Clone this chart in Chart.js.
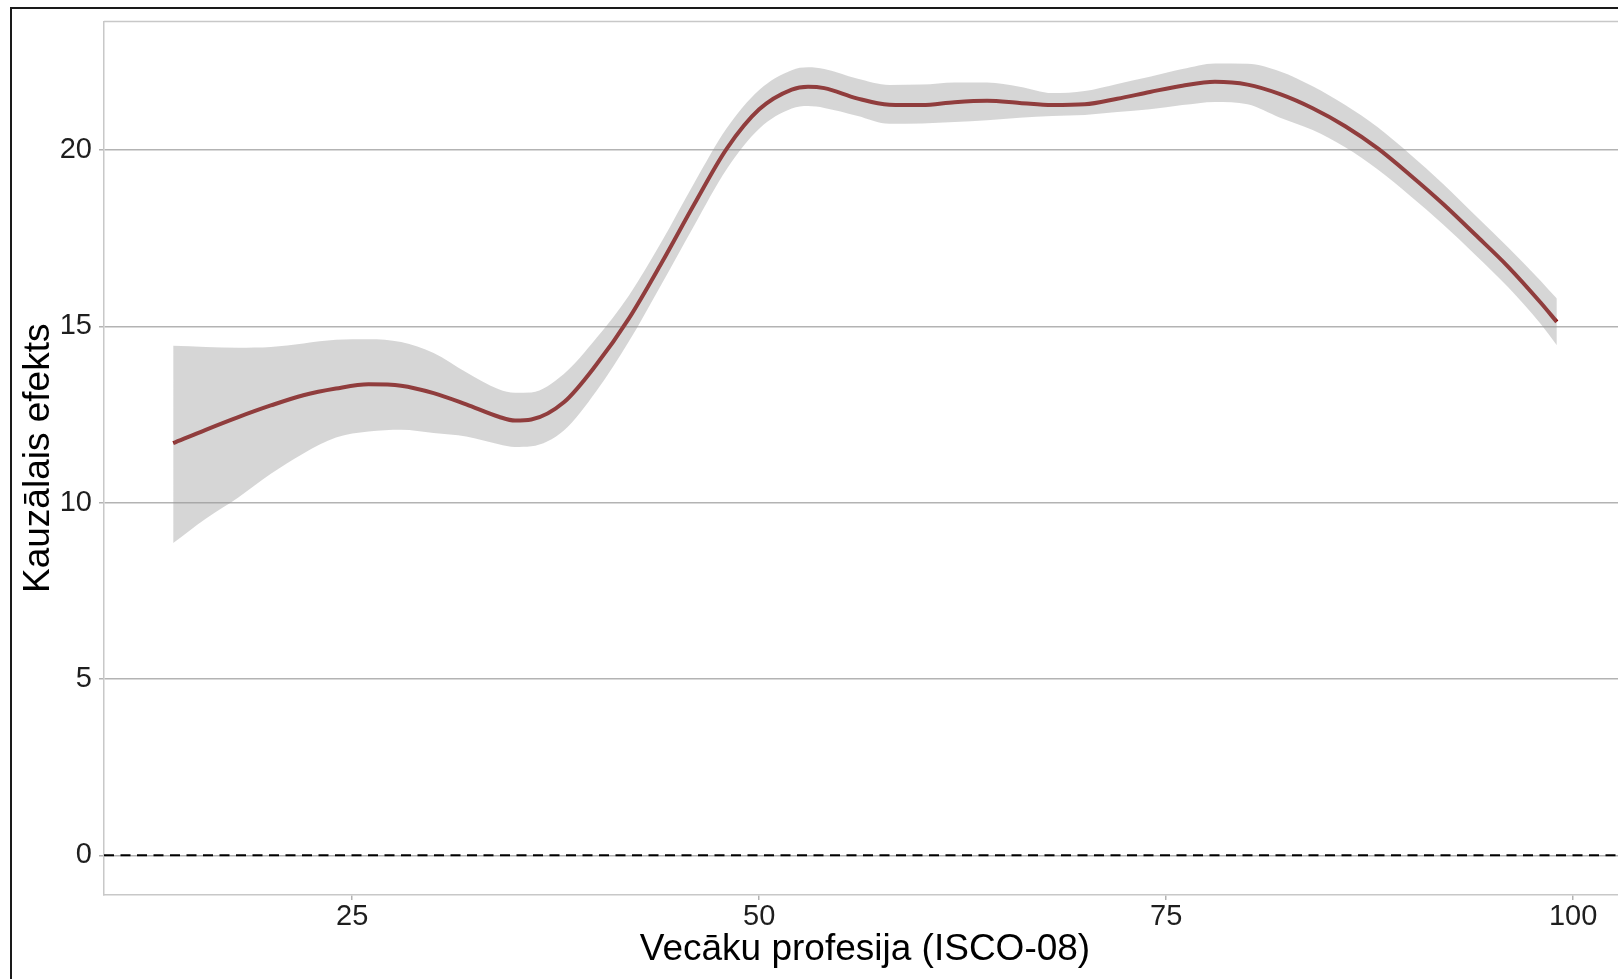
<!DOCTYPE html>
<html>
<head>
<meta charset="utf-8">
<script src="https://cdn.jsdelivr.net/npm/chart.js@4/dist/chart.umd.min.js"></script>
<style>
  html, body { margin: 0; padding: 0; overflow: hidden; background: #fff; }
  #wrap { position: absolute; left: 0; top: 0; }
</style>
</head>
<body>
<div id="wrap"><canvas id="c" width="1660" height="979"></canvas></div>
<script>
// ---- data ----
const xValues = [14, 16, 18, 20, 22, 24, 26, 28, 30, 32, 34, 35, 36, 38, 40, 42, 44, 46, 48, 50, 52, 53, 54, 56, 58, 60, 62, 64, 66, 68, 70, 72, 74, 76, 78, 80, 82, 84, 86, 88, 90, 92, 94, 96, 98, 99];
const fitValues = [11.69, 12.07, 12.43, 12.76, 13.05, 13.24, 13.36, 13.32, 13.11, 12.79, 12.44, 12.33, 12.36, 12.85, 13.92, 15.23, 16.80, 18.46, 20.04, 21.16, 21.72, 21.80, 21.76, 21.47, 21.29, 21.28, 21.36, 21.40, 21.34, 21.28, 21.30, 21.46, 21.65, 21.83, 21.94, 21.86, 21.59, 21.19, 20.68, 20.05, 19.29, 18.48, 17.60, 16.70, 15.68, 15.13];
const upperValues = [14.45, 14.42, 14.40, 14.42, 14.52, 14.62, 14.64, 14.56, 14.25, 13.70, 13.22, 13.12, 13.13, 13.65, 14.67, 15.88, 17.40, 19.06, 20.62, 21.71, 22.27, 22.35, 22.30, 22.03, 21.85, 21.86, 21.92, 21.92, 21.80, 21.62, 21.68, 21.88, 22.08, 22.30, 22.46, 22.45, 22.23, 21.81, 21.28, 20.65, 19.88, 19.05, 18.15, 17.25, 16.30, 15.79];
const lowerValues = [8.86, 9.55, 10.15, 10.82, 11.40, 11.85, 12.02, 12.07, 11.98, 11.88, 11.66, 11.58, 11.60, 12.05, 13.17, 14.58, 16.20, 17.86, 19.46, 20.61, 21.18, 21.25, 21.20, 20.98, 20.75, 20.76, 20.80, 20.85, 20.92, 20.97, 21.00, 21.08, 21.16, 21.28, 21.37, 21.30, 20.92, 20.57, 20.08, 19.45, 18.70, 17.90, 17.03, 16.12, 15.08, 14.47];
const refLineY = 0;
const xTicks = [25, 50, 75, 100];
const yTicks = [0, 5, 10, 15, 20];
const xRange = [9.75, 103.25];
const yRange = [-1.125, 23.65];
const xTitle = 'Vecāku profesija (ISCO-08)';
const yTitle = 'Kauzālais efekts';

const toPts = arr => xValues.map((x, i) => ({ x: x, y: arr[i] }));
const FONT = "'Liberation Sans', Arial, sans-serif";

const frame = {
  id: 'frame',
  beforeDraw(chart) {
    const ctx = chart.ctx;
    ctx.save();
    ctx.fillStyle = '#ffffff';
    ctx.fillRect(0, 0, chart.width, chart.height);
    ctx.strokeStyle = '#1a1a1a';
    ctx.lineWidth = 2;
    ctx.strokeRect(11, 8, 3000, 3000);
    ctx.restore();
  },
  afterDraw(chart) {
    const a = chart.chartArea;
    const ctx = chart.ctx;
    ctx.save();
    ctx.strokeStyle = '#c8c8c8';
    ctx.lineWidth = 1.5;
    ctx.beginPath();
    ctx.moveTo(a.left, a.top);
    ctx.lineTo(a.right, a.top);
    ctx.lineTo(a.right, a.bottom);
    ctx.stroke();
    ctx.restore();
  }
};

new Chart(document.getElementById('c'), {
  type: 'line',
  data: {
    datasets: [
      { label: 'lower', data: toPts(lowerValues), borderWidth: 0, pointRadius: 0, fill: false, cubicInterpolationMode: 'monotone', borderColor: 'rgba(0,0,0,0)' },
      { label: 'upper', data: toPts(upperValues), borderWidth: 0, pointRadius: 0, fill: '-1', backgroundColor: 'rgba(153,153,153,0.4)', cubicInterpolationMode: 'monotone', borderColor: 'rgba(0,0,0,0)' },
      { label: 'fit', data: toPts(fitValues), borderWidth: 4, borderColor: '#8b0000', pointRadius: 0, fill: false, cubicInterpolationMode: 'monotone' },
      { label: 'zero', data: [{ x: xRange[0], y: refLineY }, { x: xRange[1], y: refLineY }], borderWidth: 2, borderColor: '#000000', borderDash: [10, 6.5], pointRadius: 0, fill: false }
    ]
  },
  options: {
    responsive: false,
    animation: false,
    events: [],
    layout: { padding: { top: 19, right: 34, left: 0, bottom: 0 } },
    plugins: { legend: { display: false }, tooltip: { enabled: false } },
    scales: {
      x: {
        type: 'linear',
        min: xRange[0],
        max: xRange[1],
        afterBuildTicks: s => { s.ticks = xTicks.map(v => ({ value: v })); },
        afterFit: s => { s.height = 84; },
        grid: { drawOnChartArea: false, drawTicks: true, tickLength: 5, color: '#b3b3b3', lineWidth: 1.5 },
        border: { display: true, color: '#c8c8c8', width: 1.5 },
        ticks: { color: '#1e1e1e', font: { family: FONT, size: 29, lineHeight: 1 }, padding: 2, maxRotation: 0, autoSkip: false },
        title: { display: true, text: xTitle, color: '#000000', font: { family: FONT, size: 37, lineHeight: 1 }, padding: { top: 0, bottom: 10.5 } }
      },
      y: {
        type: 'linear',
        min: yRange[0],
        max: yRange[1],
        afterBuildTicks: s => { s.ticks = yTicks.map(v => ({ value: v })); },
        afterFit: s => { s.width = 104; },
        grid: { drawOnChartArea: true, drawTicks: true, tickLength: 5, color: '#b3b3b3', lineWidth: 1.5 },
        border: { display: true, color: '#c8c8c8', width: 1.5 },
        ticks: { color: '#1e1e1e', font: { family: FONT, size: 29, lineHeight: 1 }, padding: 7, autoSkip: false },
        title: { display: true, text: yTitle, color: '#000000', font: { family: FONT, size: 37, lineHeight: 1 }, padding: { top: 20, bottom: 0 } }
      }
    }
  },
  plugins: [frame]
});
</script>
</body>
</html>
